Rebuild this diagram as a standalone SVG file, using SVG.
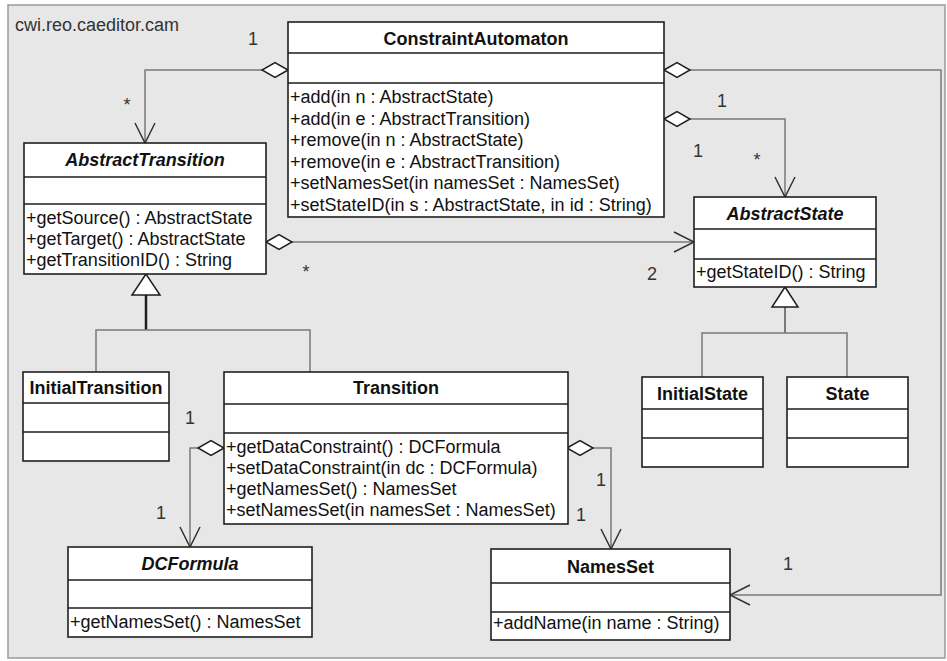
<svg xmlns="http://www.w3.org/2000/svg" width="947" height="661" viewBox="0 0 947 661">
<style>
.bg{fill:#e7e7e7;stroke:#9a9a9a;stroke-width:1.5}
.box{fill:#fff;stroke:#1e1e1e;stroke-width:1.6}
.sep{stroke:#1e1e1e;stroke-width:1.6}
.t{font-family:"Liberation Sans",Arial,sans-serif;font-size:18px;fill:#111}
.ttl{font-weight:bold;text-anchor:middle}
.abs{font-style:italic}
.lbl{font-family:"Liberation Sans",Arial,sans-serif;font-size:18px;fill:#333;text-anchor:middle}
.conn{fill:none;stroke:#7a7a7a;stroke-width:1.5}
.gen{fill:none;stroke:#7a7a7a;stroke-width:1.5}
.stem{fill:none;stroke:#1e1e1e;stroke-width:2.5}
.tri{fill:#fff;stroke:#1e1e1e;stroke-width:1.5}
</style>
<defs>
<marker id="dia" markerUnits="userSpaceOnUse" markerWidth="30" markerHeight="18" refX="1" refY="9" orient="auto" overflow="visible">
<path d="M1,9 L14,1.5 L27,9 L14,16.5 Z" fill="#fff" stroke="#1e1e1e" stroke-width="1.5"/>
</marker>
<marker id="arr" markerUnits="userSpaceOnUse" markerWidth="22" markerHeight="22" refX="20" refY="10" orient="auto" overflow="visible">
<path d="M0,0 L20,10 L0,20" fill="none" stroke="#333" stroke-width="1.5"/>
</marker>
</defs>
<rect x="0" y="0" width="947" height="661" fill="#fff"/>
<rect class="bg" x="8" y="5" width="937" height="653"/>
<text class="t" x="15" y="31" style="fill:#333">cwi.reo.caeditor.cam</text>

<g id="connectors">
<path class="conn" d="M288,70 H145 V143" marker-start="url(#dia)" marker-end="url(#arr)"/>
<path class="conn" d="M664,70 H941 V595 H730" marker-start="url(#dia)" marker-end="url(#arr)"/>
<path class="conn" d="M664,119 H785 V197" marker-start="url(#dia)" marker-end="url(#arr)"/>
<path class="conn" d="M266,242 H694" marker-start="url(#dia)" marker-end="url(#arr)"/>
<path class="conn" d="M224,448 H190 V547" marker-start="url(#dia)" marker-end="url(#arr)"/>
<path class="conn" d="M567,448 H611 V549" marker-start="url(#dia)" marker-end="url(#arr)"/>
<path class="stem" d="M146,295 V330"/>
<path class="gen" d="M96,372 V330 H310 V372"/>
<polygon class="tri" points="146,274 132,295 160,295"/>
<path class="gen" d="M785,307 V333" style="stroke:#555"/>
<path class="gen" d="M702,377 V333 H847 V377"/>
<polygon class="tri" points="785,287 772,307 798,307"/>
<text class="lbl" x="253" y="44.5">1</text>
<text class="lbl" x="127" y="111">*</text>
<text class="lbl" x="788" y="569.5">1</text>
<text class="lbl" x="722" y="106.5">1</text>
<text class="lbl" x="698" y="156.5">1</text>
<text class="lbl" x="757" y="166">*</text>
<text class="lbl" x="306" y="278">*</text>
<text class="lbl" x="652" y="279.5">2</text>
<text class="lbl" x="190" y="423.5">1</text>
<text class="lbl" x="161" y="518.5">1</text>
<text class="lbl" x="601" y="485.5">1</text>
<text class="lbl" x="581" y="520.5">1</text>
</g>

<g id="ConstraintAutomaton">
<rect class="box" x="288" y="22" width="376" height="195"/>
<path class="sep" d="M288,53 H664 M288,83 H664"/>
<text class="t ttl" x="476" y="44.5">ConstraintAutomaton</text>
<text class="t" x="290" y="103">+add(in n : AbstractState)</text>
<text class="t" x="290" y="124.5">+add(in e : AbstractTransition)</text>
<text class="t" x="290" y="146">+remove(in n : AbstractState)</text>
<text class="t" x="290" y="167.5">+remove(in e : AbstractTransition)</text>
<text class="t" x="290" y="189">+setNamesSet(in namesSet : NamesSet)</text>
<text class="t" x="290" y="210.5">+setStateID(in s : AbstractState, in id : String)</text>
</g>

<g id="AbstractTransition">
<rect class="box" x="24" y="143" width="242" height="131"/>
<path class="sep" d="M24,177 H266 M24,204 H266"/>
<text class="t ttl abs" x="145" y="165.5">AbstractTransition</text>
<text class="t" x="26" y="224">+getSource() : AbstractState</text>
<text class="t" x="26" y="245">+getTarget() : AbstractState</text>
<text class="t" x="26" y="266">+getTransitionID() : String</text>
</g>

<g id="AbstractState">
<rect class="box" x="694" y="197" width="182" height="90"/>
<path class="sep" d="M694,229 H876 M694,259 H876"/>
<text class="t ttl abs" x="785" y="219.5">AbstractState</text>
<text class="t" x="696" y="278">+getStateID() : String</text>
</g>

<g id="InitialTransition">
<rect class="box" x="23" y="372" width="146" height="89"/>
<path class="sep" d="M23,403 H169 M23,432 H169"/>
<text class="t ttl" x="96" y="393.5">InitialTransition</text>
</g>

<g id="Transition">
<rect class="box" x="224" y="372" width="344" height="152"/>
<path class="sep" d="M224,404 H568 M224,433 H568"/>
<text class="t ttl" x="396" y="393.5">Transition</text>
<text class="t" x="226" y="453">+getDataConstraint() : DCFormula</text>
<text class="t" x="226" y="474">+setDataConstraint(in dc : DCFormula)</text>
<text class="t" x="226" y="495">+getNamesSet() : NamesSet</text>
<text class="t" x="226" y="516">+setNamesSet(in namesSet : NamesSet)</text>
</g>

<g id="InitialState">
<rect class="box" x="642" y="377" width="121" height="90"/>
<path class="sep" d="M642,409 H763 M642,438 H763"/>
<text class="t ttl" x="702.5" y="399.5">InitialState</text>
</g>

<g id="State">
<rect class="box" x="787" y="377" width="121" height="90"/>
<path class="sep" d="M787,409 H908 M787,438 H908"/>
<text class="t ttl" x="847.5" y="399.5">State</text>
</g>

<g id="DCFormula">
<rect class="box" x="68" y="547" width="244" height="90"/>
<path class="sep" d="M68,580 H312 M68,608 H312"/>
<text class="t ttl abs" x="190" y="569.5">DCFormula</text>
<text class="t" x="70" y="628">+getNamesSet() : NamesSet</text>
</g>

<g id="NamesSet">
<rect class="box" x="491" y="549" width="239" height="91"/>
<path class="sep" d="M491,583 H730 M491,612 H730"/>
<text class="t ttl" x="610.5" y="572.5">NamesSet</text>
<text class="t" x="493" y="629">+addName(in name : String)</text>
</g>
</svg>
